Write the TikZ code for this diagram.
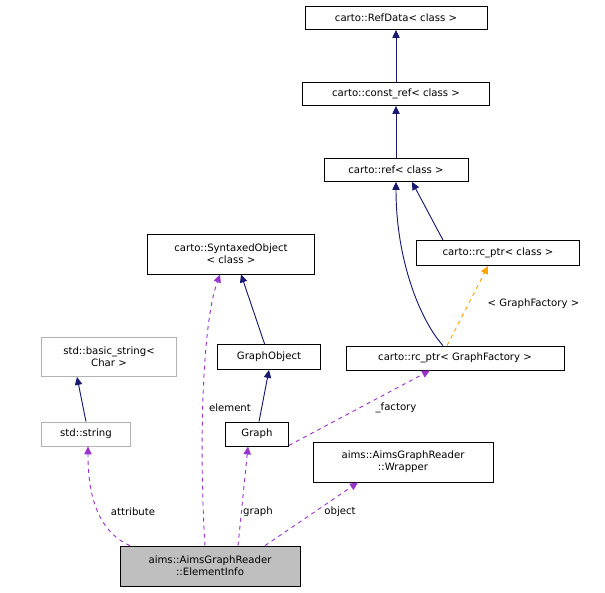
\documentclass[tikz,border=0pt]{standalone}
\usepackage{fontspec}
\setmainfont{DejaVu Sans}
\usetikzlibrary{arrows.meta}
\begin{document}
\begin{tikzpicture}[x=0.75pt,y=-0.75pt,
  box/.style={draw,fill=white,inner sep=1pt,align=center,font=\fontsize{7.6}{9}\selectfont,line width=0.6pt},
  gbox/.style={box,draw=black!30},
  inh/.style={draw={rgb,255:red,25;green,25;blue,112},-{Triangle[length=6pt,width=5.5pt]},line width=0.7pt},
  use/.style={draw={rgb,255:red,154;green,50;blue,205},dashed,-{Triangle[length=6pt,width=5.5pt]},line width=0.7pt},
  tmpl/.style={draw={rgb,255:red,255;green,165;blue,0},dashed,-{Triangle[length=6pt,width=5.5pt]},line width=0.7pt},
  lab/.style={font=\fontsize{7.6}{9}\selectfont}]
\useasboundingbox (0,0) rectangle (605,592);
\node[box,minimum width=182*0.75pt,minimum height=23*0.75pt] (refdata) at (396,18) {carto::RefData< class >};
\node[box,minimum width=187*0.75pt,minimum height=23*0.75pt] (cref) at (396,94) {carto::const\_ref< class >};
\node[box,minimum width=144*0.75pt,minimum height=23*0.75pt] (ref) at (396,170) {carto::ref< class >};
\node[box,minimum width=163*0.75pt,minimum height=25*0.75pt] (rcc) at (498,253) {carto::rc\_ptr< class >};
\node[box,minimum width=218*0.75pt,minimum height=24*0.75pt] (rcg) at (455,358) {carto::rc\_ptr< GraphFactory >};
\node[box,minimum width=167*0.75pt,minimum height=40*0.75pt] (syn) at (231,254) {carto::SyntaxedObject\\< class >};
\node[box,minimum width=103*0.75pt,minimum height=25*0.75pt] (gobj) at (269,357) {GraphObject};
\node[box,minimum width=63*0.75pt,minimum height=24*0.75pt] (graph) at (257,434) {Graph};
\node[box,minimum width=180*0.75pt,minimum height=40*0.75pt] (wrap) at (403,462) {aims::AimsGraphReader\\::Wrapper};
\node[gbox,minimum width=135*0.75pt,minimum height=39*0.75pt] (bstr) at (109,357) {std::basic\_string<\\Char >};
\node[gbox,minimum width=89*0.75pt,minimum height=24*0.75pt] (str) at (86,434) {std::string};
\node[box,fill=black!25,minimum width=180*0.75pt,minimum height=40*0.75pt] (ei) at (210,566) {aims::AimsGraphReader\\::ElementInfo};
\draw[inh] (cref) -- (refdata);
\draw[inh] (ref) -- (cref);
\draw[inh] ([xshift=-55*0.75pt]rcc.north) -- ([xshift=16*0.75pt]ref.south);
\draw[inh] ([xshift=-12*0.75pt]rcg.north) .. controls (420,320) and (396,260) .. (ref.south);
\draw[tmpl] ([xshift=-8*0.75pt]rcg.north) -- ([xshift=-10*0.75pt]rcc.south);
\node[lab,anchor=west] (tl) at (483,304) {< GraphFactory >};
\draw[inh] (gobj) -- ([xshift=10*0.75pt]syn.south);
\draw[inh] ([xshift=2*0.75pt]graph.north) -- (gobj.south);
\draw[inh] (str.north) -- ([xshift=-32*0.75pt]bstr.south);
\draw[use] ([xshift=-5*0.75pt]ei.north) .. controls (200,470) and (200,330) .. ([xshift=-11*0.75pt]syn.south);
\node[lab] (l1) at (230,408) {element};
\draw[use] ([xshift=28*0.75pt]ei.north) -- ([xshift=-9*0.75pt]graph.south);
\node[lab] (l2) at (258,512) {graph};
\draw[use] ([xshift=-80*0.75pt]ei.north) .. controls (95,530) and (88,490) .. ([xshift=2*0.75pt]str.south);
\node[lab] (l3) at (133,512) {attribute};
\draw[use] ([xshift=55*0.75pt]ei.north) -- ([xshift=-45*0.75pt]wrap.south);
\node[lab] (l4) at (340,512) {object};
\draw[use] ([yshift=1*0.75pt]graph.south east) -- ([xshift=-25*0.75pt]rcg.south);
\node[lab] (l5) at (396,408) {\_factory};
\end{tikzpicture}
\end{document}
